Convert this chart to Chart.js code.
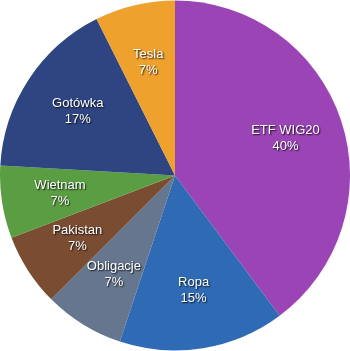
<html lang="pl">
<head>
    <meta charset="UTF-8">
    <title>Portfel</title>
    <script src="https://cdn.jsdelivr.net/npm/chart.js@4.4.0"></script>
    <style>
        body { margin: 0; background: #fff; }
        canvas { display: block; }
    </style>
</head>
<body>
    <canvas id="myChart" width="350" height="351"></canvas>
    <script>
        // Udziały (w %)
        const labels = ['ETF WIG20', 'Ropa', 'Obligacje', 'Pakistan', 'Wietnam', 'Gotówka', 'Tesla'];
        const shares = [39.8, 15.3, 7.4, 6.7, 6.7, 16.7, 7.4];
        const colors = ['#9b44b5', '#2f6bb5', '#65768e', '#7a4d33', '#5b9d43', '#2f4581', '#eea12d'];

        // Napisy wewnątrz wycinków: nazwa + procent
        const sliceLabels = {
            id: 'sliceLabels',
            afterDatasetsDraw(chart) {
                const ctx = chart.ctx;
                const meta = chart.getDatasetMeta(0);
                const data = chart.data.datasets[0].data;
                const total = data.reduce((a, b) => a + b, 0);
                ctx.save();
                ctx.font = '13px "Liberation Sans", Arial, sans-serif';
                ctx.textAlign = 'center';
                ctx.textBaseline = 'middle';
                ctx.fillStyle = '#ffffff';
                ctx.shadowColor = 'rgba(0,0,0,0.85)';
                ctx.shadowOffsetX = 1;
                ctx.shadowOffsetY = 1;
                ctx.shadowBlur = 1.5;
                meta.data.forEach((arc, i) => {
                    const p = arc.getProps(['x', 'y', 'startAngle', 'endAngle', 'outerRadius'], true);
                    const mid = (p.startAngle + p.endAngle) / 2;
                    const r = p.outerRadius * 0.665;
                    const x = p.x + Math.cos(mid) * r;
                    const y = p.y + Math.sin(mid) * r;
                    ctx.fillText(chart.data.labels[i], x, y - 8);
                    ctx.fillText(Math.round(data[i] / total * 100) + '%', x, y + 8);
                });
                ctx.restore();
            }
        };

        const ctx = document.getElementById('myChart').getContext('2d');
        new Chart(ctx, {
            type: 'pie',
            data: {
                labels: labels,
                datasets: [{
                    data: shares,
                    backgroundColor: colors,
                    borderWidth: 0
                }]
            },
            options: {
                responsive: false,
                animation: false,
                layout: { padding: 0 },
                plugins: {
                    legend: { display: false },
                    tooltip: { enabled: false }
                }
            },
            plugins: [sliceLabels]
        });
    </script>
</body>
</html>
